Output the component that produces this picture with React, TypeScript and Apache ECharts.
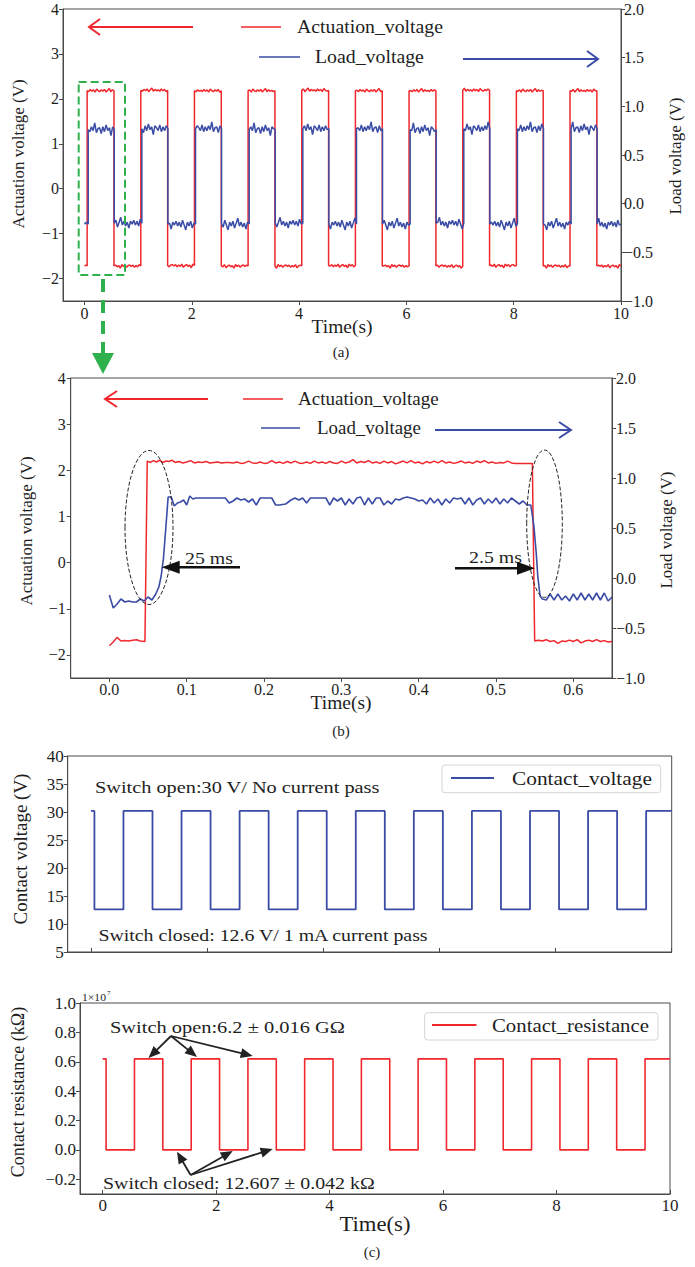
import React, { useEffect, useRef } from "react";
import * as echarts from "echarts";

// ---------------- data ----------------
// (a) full 10 s record: edge times (s) and plateau levels
const actRiseA = [0.05, 1.05, 2.05, 3.05, 4.05, 5.05, 6.05, 7.05, 8.05, 9.05];
const actFallA = [0.55, 1.55, 2.55, 3.55, 4.55, 5.55, 6.55, 7.55, 8.55, 9.55];
const loadRiseA = [0.07, 1.07, 2.07, 3.07, 4.07, 5.07, 6.07, 7.07, 8.07, 9.07];
const loadFallA = [0.555, 1.555, 2.555, 3.555, 4.555, 5.555, 6.555, 7.555, 8.555, 9.555];
const actHighA = [2.18, 2.19, 2.18, 2.18, 2.19, 2.18, 2.18, 2.19, 2.18, 2.18];
const actLowA = [-1.72, -1.72, -1.71, -1.72, -1.72, -1.71, -1.72, -1.72, -1.71, -1.72, -1.72];
const loadHighA = [0.76, 0.77, 0.77, 0.76, 0.77, 0.77, 0.76, 0.77, 0.77, 0.77];
const loadLowA = [-0.21, -0.2, -0.21, -0.21, -0.2, -0.21, -0.21, -0.2, -0.21, -0.21, -0.21];
const actNoiseHighA = [0.01, -0.02, 0.03, -0.01, 0.02, -0.03, 0.04, 0.0, -0.02, 0.02, -0.01, 0.03, -0.03, 0.01, 0.05, -0.02, 0.02, -0.01];
const actNoiseLowA = [-0.01, 0.02, -0.03, 0.01, -0.02, 0.03, -0.04, 0.0, 0.02, -0.02, 0.01, -0.05, 0.03, -0.01, 0.02, -0.03, 0.01, 0.02];
const loadNoiseHighA = [0.02, -0.02, 0.03, -0.01, 0.07, -0.03, 0.01, 0.02, -0.04, 0.03, -0.02, 0.05, -0.01, 0.02, -0.06, 0.03, 0.01, -0.02, 0.04, -0.03];
const loadNoiseLowA = [-0.02, 0.02, -0.03, 0.04, -0.01, -0.06, 0.02, -0.02, 0.03, -0.04, 0.01, 0.06, -0.02, 0.02, -0.03, 0.01, -0.05, 0.02, -0.01, 0.03];

// (b) zoom on the first pulse: [time (s), value]
const actB: number[][] = [
  [0, -1.8], [0.005, -1.72], [0.01, -1.62], [0.015, -1.7], [0.02, -1.69], [0.025, -1.7], [0.03, -1.68], [0.035, -1.67], [0.04, -1.7], [0.046, -1.71],
  [0.049, 2.2], [0.053, 2.17], [0.057, 2.21], [0.061, 2.18], [0.065, 2.22], [0.069, 2.17], [0.073, 2.2], [0.077, 2.19], [0.081, 2.22], [0.085, 2.17],
  [0.09, 2.19], [0.095, 2.16], [0.1, 2.18], [0.105, 2.21], [0.11, 2.16], [0.115, 2.18], [0.12, 2.17], [0.125, 2.19], [0.13, 2.16], [0.135, 2.17],
  [0.14, 2.18], [0.145, 2.16], [0.15, 2.17], [0.155, 2.17], [0.16, 2.16], [0.165, 2.18], [0.17, 2.15], [0.175, 2.16], [0.18, 2.2], [0.185, 2.16],
  [0.19, 2.15], [0.195, 2.18], [0.2, 2.15], [0.205, 2.16], [0.21, 2.21], [0.215, 2.16], [0.22, 2.18], [0.225, 2.15], [0.23, 2.19], [0.235, 2.16],
  [0.24, 2.2], [0.245, 2.16], [0.25, 2.15], [0.255, 2.18], [0.26, 2.15], [0.265, 2.2], [0.27, 2.16], [0.275, 2.18], [0.28, 2.15], [0.285, 2.19],
  [0.29, 2.16], [0.295, 2.15], [0.3, 2.2], [0.305, 2.16], [0.31, 2.18], [0.315, 2.23], [0.32, 2.16], [0.325, 2.19], [0.33, 2.17], [0.335, 2.21],
  [0.34, 2.16], [0.345, 2.18], [0.35, 2.15], [0.355, 2.2], [0.36, 2.16], [0.365, 2.19], [0.37, 2.14], [0.375, 2.17], [0.38, 2.2], [0.385, 2.16],
  [0.39, 2.21], [0.395, 2.16], [0.4, 2.18], [0.405, 2.14], [0.41, 2.19], [0.415, 2.16], [0.42, 2.2], [0.425, 2.16], [0.43, 2.21], [0.435, 2.16],
  [0.44, 2.18], [0.445, 2.15], [0.45, 2.17], [0.455, 2.2], [0.46, 2.16], [0.465, 2.18], [0.47, 2.15], [0.475, 2.2], [0.48, 2.17], [0.485, 2.21],
  [0.49, 2.16], [0.495, 2.18], [0.5, 2.15], [0.505, 2.17], [0.51, 2.16], [0.515, 2.2], [0.52, 2.16], [0.525, 2.15], [0.53, 2.15], [0.54, 2.15], [0.547, 2.15],
  [0.55, -1.7], [0.555, -1.68], [0.56, -1.7], [0.565, -1.67], [0.57, -1.71], [0.575, -1.69], [0.58, -1.75], [0.585, -1.7], [0.59, -1.71], [0.595, -1.68],
  [0.6, -1.71], [0.605, -1.67], [0.61, -1.74], [0.615, -1.7], [0.62, -1.68], [0.625, -1.71], [0.63, -1.67], [0.635, -1.71], [0.64, -1.69], [0.645, -1.72], [0.65, -1.71],
];
const loadB: number[][] = [
  [0, -0.17], [0.005, -0.3], [0.01, -0.26], [0.015, -0.21], [0.02, -0.24], [0.025, -0.23], [0.03, -0.24], [0.035, -0.24], [0.04, -0.21], [0.045, -0.23],
  [0.05, -0.19], [0.055, -0.22], [0.06, -0.16], [0.064, -0.09], [0.067, 0.02], [0.07, 0.2], [0.073, 0.5], [0.076, 0.81], [0.08, 0.81], [0.084, 0.72],
  [0.088, 0.75], [0.092, 0.76], [0.096, 0.78], [0.1, 0.73], [0.104, 0.82], [0.108, 0.79], [0.112, 0.8], [0.12, 0.8], [0.13, 0.8], [0.14, 0.8],
  [0.15, 0.8], [0.155, 0.75], [0.16, 0.77], [0.165, 0.8], [0.17, 0.78], [0.175, 0.79], [0.18, 0.76], [0.185, 0.79], [0.19, 0.73], [0.195, 0.8],
  [0.2, 0.8], [0.21, 0.8], [0.215, 0.73], [0.22, 0.73], [0.228, 0.74], [0.235, 0.78], [0.24, 0.8], [0.245, 0.78], [0.25, 0.8], [0.255, 0.75],
  [0.26, 0.8], [0.265, 0.8], [0.27, 0.8], [0.28, 0.8], [0.285, 0.73], [0.29, 0.8], [0.295, 0.77], [0.3, 0.8], [0.305, 0.73], [0.31, 0.79],
  [0.315, 0.74], [0.32, 0.8], [0.325, 0.81], [0.33, 0.73], [0.335, 0.8], [0.34, 0.74], [0.345, 0.8], [0.35, 0.8], [0.355, 0.73], [0.36, 0.77],
  [0.365, 0.74], [0.37, 0.79], [0.375, 0.78], [0.38, 0.8], [0.385, 0.81], [0.39, 0.8], [0.395, 0.79], [0.4, 0.77], [0.405, 0.78], [0.41, 0.74],
  [0.415, 0.8], [0.42, 0.75], [0.425, 0.79], [0.43, 0.73], [0.435, 0.79], [0.44, 0.75], [0.445, 0.8], [0.45, 0.79], [0.455, 0.8], [0.46, 0.74],
  [0.465, 0.8], [0.47, 0.73], [0.475, 0.78], [0.48, 0.8], [0.485, 0.74], [0.49, 0.79], [0.495, 0.75], [0.5, 0.8], [0.505, 0.74], [0.51, 0.79],
  [0.515, 0.75], [0.52, 0.8], [0.525, 0.77], [0.53, 0.74], [0.535, 0.77], [0.54, 0.73], [0.545, 0.73], [0.549, 0.52], [0.552, 0.25], [0.554, 0.02],
  [0.557, -0.18], [0.56, -0.21], [0.565, -0.22], [0.57, -0.16], [0.575, -0.22], [0.58, -0.16], [0.585, -0.22], [0.59, -0.18], [0.595, -0.23], [0.6, -0.16],
  [0.605, -0.22], [0.61, -0.15], [0.615, -0.22], [0.62, -0.16], [0.625, -0.22], [0.63, -0.15], [0.635, -0.22], [0.64, -0.15], [0.645, -0.23], [0.65, -0.19],
];

// (c) contact voltage / resistance: switch closes / opens at these times (s)
const closeC = [0.06, 1.06, 2.06, 3.06, 4.06, 5.06, 6.06, 7.06, 8.06, 9.06];
const openC = [0.56, 1.56, 2.56, 3.56, 4.56, 5.56, 6.56, 7.56, 8.56, 9.56];
const contactVoltageOpen = [30.2, 30.2, 30.2, 30.2, 30.2, 30.2, 30.2, 30.2, 30.2, 30.2, 30.2];
const contactVoltageClosed = [12.6, 12.6, 12.6, 12.6, 12.6, 12.6, 12.6, 12.6, 12.6, 12.6];
const contactResOpen = [6.2e6, 6.2e6, 6.2e6, 6.2e6, 6.2e6, 6.2e6, 6.2e6, 6.2e6, 6.2e6, 6.2e6, 6.2e6]; // kΩ
const contactResClosed = [12.607, 12.607, 12.607, 12.607, 12.607, 12.607, 12.607, 12.607, 12.607, 12.607]; // kΩ

// tick values
const ticksA_x = [0, 2, 4, 6, 8, 10];
const ticksAct_y = [-2, -1, 0, 1, 2, 3, 4];
const ticksB_x = [0, 0.1, 0.2, 0.3, 0.4, 0.5, 0.6];
const ticksC_x = [0, 2, 4, 6, 8, 10];
const ticksRes_y = [-2e6, 0, 2e6, 4e6, 6e6, 8e6, 1e7];

// ---------------- helpers ----------------
const FONT = "Liberation Serif, Times New Roman, serif";
const RED = "#f0282d";
const BLUE = "#3a4ca5";
const GREEN = "#2eb14c";
const INK = "#1e1e1e";
const AXIS = "#4a4a4a";

function plateau(pts: number[][], t0: number, t1: number, level: number, noise: number[], k: number) {
  pts.push([t0, level]);
  const n = Math.max(2, Math.round((t1 - t0) / 0.03));
  for (let i = 1; i < n; i++) pts.push([t0 + ((t1 - t0) * i) / n, level + noise[(i + 7 * k) % noise.length]]);
  pts.push([t1, level]);
}
function square(rises: number[], falls: number[], highs: number[], lows: number[], nh: number[], nl: number[], tEnd: number) {
  const pts: number[][] = [];
  let t = 0;
  for (let k = 0; k <= rises.length; k++) {
    const end = k < rises.length ? rises[k] : tEnd;
    plateau(pts, t, end, lows[k], nl, k);
    if (k < rises.length) {
      plateau(pts, rises[k], falls[k], highs[k], nh, k);
      t = falls[k];
    }
  }
  return pts;
}
function cleanSquare(downs: number[], ups: number[], highs: number[], lows: number[], tEnd: number) {
  const pts: number[][] = [[0, highs[0]]];
  for (let k = 0; k < downs.length; k++) {
    pts.push([downs[k], highs[k]], [downs[k], lows[k]], [ups[k], lows[k]], [ups[k], highs[k + 1]]);
  }
  pts.push([tEnd, highs[highs.length - 1]]);
  return pts;
}

let measureCtx: CanvasRenderingContext2D | null = null;
function textW(text: string, size: number) {
  if (!measureCtx) measureCtx = document.createElement("canvas").getContext("2d");
  if (!measureCtx) return text.length * size * 0.45;
  measureCtx.font = `${size}px ${FONT}`;
  return measureCtx.measureText(text).width;
}
function label(text: string, x: number, y: number, size: number, width?: number, align = "left", color = INK): any {
  let sx = width ? width / textW(text, size) : 1;
  if (!isFinite(sx) || sx < 0.7 || sx > 1.5) sx = 1;
  return {
    type: "text", x, y, scaleX: sx, silent: true, z: 60,
    style: { text, fill: color, font: `${size}px ${FONT}`, align, verticalAlign: "middle" },
  };
}
function vtitle(text: string, x: number, y: number, size: number): any {
  return {
    type: "text", x, y, rotation: Math.PI / 2, silent: true, z: 60,
    style: { text, fill: INK, font: `${size}px ${FONT}`, align: "center", verticalAlign: "middle" },
  };
}
function seg(x1: number, y1: number, x2: number, y2: number, color: string, w: number, dash?: number[]): any {
  return { type: "line", silent: true, z: 55, shape: { x1, y1, x2, y2 }, style: { stroke: color, lineWidth: w, lineDash: dash } };
}
function arrow(x1: number, y1: number, x2: number, y2: number, color: string, w: number, len: number, half: number, filled: boolean): any[] {
  const dx = x2 - x1, dy = y2 - y1, L = Math.hypot(dx, dy);
  const ux = dx / L, uy = dy / L, px = -uy, py = ux;
  const bx = x2 - ux * len, by = y2 - uy * len;
  const p1 = [bx + px * half, by + py * half];
  const p2 = [bx - px * half, by - py * half];
  const out: any[] = [seg(x1, y1, filled ? bx + ux * 1 : x2, filled ? by + uy * 1 : y2, color, w)];
  if (filled) out.push({ type: "polygon", silent: true, z: 56, shape: { points: [[x2, y2], p1, p2] }, style: { fill: color } });
  else out.push({ type: "polyline", silent: true, z: 56, shape: { points: [p1, [x2, y2], p2] }, style: { stroke: color, lineWidth: w, fill: "none" } });
  return out;
}
const fmt = (d: number, scale = 1) => (v: number) => {
  const s = v / scale;
  return (s < -1e-9 ? "\u2212" : "") + Math.abs(s).toFixed(d);
};

function xAxisCfg(grid: number, min: number, max: number, ticks: number[], opts: any = {}): any {
  return {
    type: "value", gridIndex: grid, min, max,
    axisLine: { show: true, onZero: false, lineStyle: { color: AXIS, width: 1 } },
    axisTick: { show: true, inside: !!opts.inside, length: 4, customValues: ticks, lineStyle: { color: AXIS } },
    axisLabel: {
      show: opts.showLabel !== false, customValues: ticks, margin: opts.margin ?? 4,
      fontSize: opts.fontSize ?? 16, fontFamily: FONT, color: INK, formatter: opts.formatter,
    },
    splitLine: { show: false },
  };
}
function yAxisCfg(grid: number, min: number, max: number, position: string, opts: any = {}): any {
  const a: any = {
    type: "value", gridIndex: grid, min, max, position,
    axisLine: { show: true, onZero: false, lineStyle: { color: AXIS, width: 1 } },
    axisTick: { show: true, inside: false, length: 4, lineStyle: { color: AXIS } },
    axisLabel: { margin: opts.margin ?? 4, fontSize: opts.fontSize ?? 16, fontFamily: FONT, color: INK, formatter: opts.formatter },
    splitLine: { show: false },
  };
  if (opts.interval != null) a.interval = opts.interval;
  if (opts.ticks) {
    a.axisTick.customValues = opts.ticks;
    a.axisLabel.customValues = opts.ticks;
  }
  return a;
}

export default function App() {
  const ref = useRef<HTMLDivElement>(null);
  useEffect(() => {
    if (!ref.current) return;
    const chart = echarts.init(ref.current, undefined, { renderer: "svg" });

    const actA = square(actRiseA, actFallA, actHighA, actLowA, actNoiseHighA, actNoiseLowA, 10);
    const loadA = square(loadRiseA, loadFallA, loadHighA, loadLowA, loadNoiseHighA, loadNoiseLowA, 10);
    const voltC = cleanSquare(closeC, openC, contactVoltageOpen, contactVoltageClosed, 10);
    const resC = cleanSquare(closeC, openC, contactResOpen, contactResClosed, 10);

    const gridBase = { show: true, borderColor: AXIS, borderWidth: 1, backgroundColor: "transparent" };

    const graphics: any[] = [
      // ---- (a) ----
      seg(241, 27, 281, 27, RED, 1.6),
      label("Actuation_voltage", 297, 27, 18, 146),
      seg(259, 57, 300, 57, BLUE, 1.6),
      label("Load_voltage", 315, 57, 18, 109),
      ...arrow(193, 27, 89, 27, RED, 2, 11, 8, false),
      ...arrow(463, 59, 598, 59, BLUE, 2, 11, 8, false),
      vtitle("Actuation voltage (V)", 18, 154, 17),
      vtitle("Load voltage (V)", 675, 156, 17),
      label("Time(s)", 342, 327, 18, 61, "center"),
      label("(a)", 341, 352, 15, undefined, "center"),
      // green zoom marker
      { type: "rect", silent: true, z: 57, shape: { x: 78.7, y: 82, width: 46.3, height: 193 }, style: { fill: "none", stroke: GREEN, lineWidth: 2, lineDash: [8, 4] } },
      seg(103, 279, 103, 354, GREEN, 4, [13, 8]),
      { type: "polygon", silent: true, z: 57, shape: { points: [[92, 353], [114, 353], [103, 374]] }, style: { fill: GREEN } },
      // ---- (b) ----
      seg(243, 399, 283, 399, RED, 1.6),
      label("Actuation_voltage", 298, 399, 18, 141),
      seg(261, 428, 300, 428, BLUE, 1.6),
      label("Load_voltage", 317, 428, 18, 104),
      ...arrow(208, 399, 105, 399, RED, 2, 12, 8, false),
      ...arrow(435, 430, 571, 430, BLUE, 2, 12, 8, false),
      { type: "ellipse", silent: true, z: 57, shape: { cx: 149, cy: 527.5, rx: 24, ry: 77 }, style: { fill: "none", stroke: "#222", lineWidth: 1, lineDash: [4, 2] } },
      { type: "ellipse", silent: true, z: 57, shape: { cx: 544.5, cy: 523.7, rx: 17.8, ry: 73.7 }, style: { fill: "none", stroke: "#222", lineWidth: 1, lineDash: [4, 2] } },
      label("25 ms", 185, 558, 17, 48),
      label("2.5 ms", 469, 557, 17, 53),
      ...arrow(240, 567.3, 161.7, 567.3, "#111", 2.5, 18, 6.5, true),
      ...arrow(455, 568.3, 535, 568.3, "#111", 2.5, 18, 6.5, true),
      vtitle("Actuation voltage (V)", 26.7, 531, 17),
      vtitle("Load voltage (V)", 666.7, 530, 17),
      label("Time(s)", 341, 703, 18, 61, "center"),
      label("(b)", 341, 731, 15, undefined, "center"),
      // ---- (c) top ----
      { type: "rect", silent: true, z: 54, shape: { x: 442, y: 765, width: 218.7, height: 27.7, r: 3 }, style: { fill: "rgba(255,255,255,0.85)", stroke: "#d6d6d6", lineWidth: 1 } },
      seg(451, 778, 494, 778, BLUE, 1.8),
      label("Contact_voltage", 512, 778, 19, 140),
      label("Switch open:30 V/ No current pass", 95, 787, 17, 285),
      label("Switch closed: 12.6 V/ 1 mA current pass", 98.4, 935, 17, 331),
      vtitle("Contact voltage (V)", 20, 849, 19),
      // ---- (c) bottom ----
      label("1\u00d710", 82, 997, 11, 24),
      label("7", 107, 993, 7),
      { type: "rect", silent: true, z: 54, shape: { x: 424.6, y: 1012.7, width: 233.4, height: 27.3, r: 3 }, style: { fill: "rgba(255,255,255,0.85)", stroke: "#d6d6d6", lineWidth: 1 } },
      seg(432, 1025, 476.5, 1025, RED, 1.8),
      label("Contact_resistance", 492, 1025, 19, 157),
      label("Switch open:6.2 \u00b1 0.016 G\u03a9", 110, 1027, 17, 235),
      label("Switch closed: 12.607 \u00b1 0.042 k\u03a9", 103, 1183, 17, 272),
      ...arrow(171, 1036, 148.5, 1058, "#222", 1.8, 12, 5, true),
      ...arrow(171, 1036, 197, 1057, "#222", 1.8, 12, 5, true),
      ...arrow(171, 1036, 252.7, 1056, "#222", 1.8, 12, 5, true),
      ...arrow(190.6, 1175, 177, 1151.7, "#222", 1.8, 12, 5, true),
      ...arrow(190.6, 1175, 232.7, 1151, "#222", 1.8, 12, 5, true),
      ...arrow(190.6, 1175, 272.6, 1149, "#222", 1.8, 12, 5, true),
      vtitle("Contact resistance (k\u03a9)", 18.3, 1092, 18),
      label("Time(s)", 375, 1224, 20, 71, "center"),
      label("(c)", 372, 1252, 15, undefined, "center"),
    ];

    chart.setOption({
      animation: false,
      backgroundColor: "#ffffff",
      textStyle: { fontFamily: FONT },
      grid: [
        { ...gridBase, left: 63, top: 9, width: 558, height: 292 },
        { ...gridBase, left: 70.7, top: 378, width: 541.3, height: 300 },
        { ...gridBase, left: 67.7, top: 756, width: 604, height: 196 },
        { ...gridBase, left: 80, top: 1003, width: 590, height: 191 },
      ],
      xAxis: [
        xAxisCfg(0, -0.4, 10, ticksA_x, { formatter: (v: number) => String(v) }),
        xAxisCfg(1, -0.05, 0.65, ticksB_x, { formatter: fmt(1), margin: 3 }),
        xAxisCfg(2, -0.4, 10, ticksC_x, { inside: true, showLabel: false }),
        xAxisCfg(3, -0.4, 10, ticksC_x, { inside: true, fontSize: 17, margin: 3, formatter: (v: number) => String(v) }),
      ],
      yAxis: [
        yAxisCfg(0, -2.5, 4, "left", { ticks: ticksAct_y, formatter: fmt(0) }),
        yAxisCfg(0, -1, 2, "right", { interval: 0.5, formatter: fmt(1), margin: 3 }),
        yAxisCfg(1, -2.5, 4, "left", { ticks: ticksAct_y, formatter: fmt(0), margin: 5 }),
        yAxisCfg(1, -1, 2, "right", { interval: 0.5, formatter: fmt(1), margin: 4 }),
        yAxisCfg(2, 5, 40, "left", { interval: 5, fontSize: 17, formatter: fmt(0) }),
        yAxisCfg(3, -3e6, 1e7, "left", { ticks: ticksRes_y, fontSize: 17, formatter: fmt(1, 1e7) }),
      ],
      series: [
        { name: "Actuation_voltage", type: "line", xAxisIndex: 0, yAxisIndex: 0, data: actA, showSymbol: false, symbol: "none", lineStyle: { color: RED, width: 1.5 }, itemStyle: { color: RED } },
        { name: "Load_voltage", type: "line", xAxisIndex: 0, yAxisIndex: 1, data: loadA, showSymbol: false, symbol: "none", lineStyle: { color: BLUE, width: 1.5 }, itemStyle: { color: BLUE } },
        { name: "Actuation_voltage (zoom)", type: "line", xAxisIndex: 1, yAxisIndex: 2, data: actB, showSymbol: false, symbol: "none", lineStyle: { color: RED, width: 1.5 }, itemStyle: { color: RED } },
        { name: "Load_voltage (zoom)", type: "line", xAxisIndex: 1, yAxisIndex: 3, data: loadB, showSymbol: false, symbol: "none", lineStyle: { color: BLUE, width: 1.6 }, itemStyle: { color: BLUE } },
        { name: "Contact_voltage", type: "line", xAxisIndex: 2, yAxisIndex: 4, data: voltC, showSymbol: false, symbol: "none", lineStyle: { color: BLUE, width: 1.8 }, itemStyle: { color: BLUE } },
        { name: "Contact_resistance", type: "line", xAxisIndex: 3, yAxisIndex: 5, data: resC, showSymbol: false, symbol: "none", lineStyle: { color: RED, width: 1.6 }, itemStyle: { color: RED } },
      ],
      graphic: { elements: graphics },
    });
    return () => chart.dispose();
  }, []);
  return <div ref={ref} style={{ position: "absolute", left: 0, top: 0, width: 695, height: 1267, background: "#fff" }} />;
}
